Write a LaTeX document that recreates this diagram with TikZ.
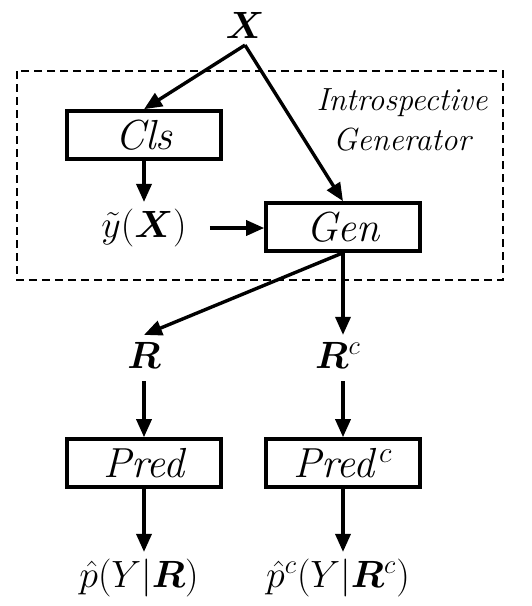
\RequirePackage{fix-cm}
\documentclass[tikz,border=0pt]{standalone}
\usepackage{bm}
\usepackage{fontspec}
\usetikzlibrary{arrows.meta}

\begin{document}
\begin{tikzpicture}[x=0.5pt,y=-0.5pt,
    block/.style={rectangle,draw=black,line width=1.8pt,minimum width=77pt,minimum height=24pt,font=\fontsize{21}{24}\selectfont\itshape},
    var/.style={font=\fontsize{19}{22}\selectfont},
    flow/.style={-{Triangle[length=9pt,width=7.5pt]},line width=1.7pt}]
  \useasboundingbox (0,0) rectangle (531,606);
  % introspective generator frame
  \draw [line width=1pt,dash pattern=on 4pt off 2.5pt] (17,71) rectangle (503,280);
  \node (intro) [font=\fontsize{16}{20}\selectfont\itshape,align=center] at (402,120) {Introspective\\Generator};

  \node (x) [var] at (245,25) {$\bm{X}$};
  \node (cls) [block] at (144,135) {Cls};
  \node (yt) [var] at (144,228) {$\tilde{y}(\bm{X})$};
  \node (gen) [block] at (343,227) {Gen};
  \node (r) [var] at (144,355) {$\bm{R}$};
  \node (rc) [var] at (338,355) {$\bm{R}^c$};
  \node (pred) [block] at (144,463) {Pred};
  \node (predc) [block] at (343,463) {Pred$^{\,c}$};
  \node (p) [var] at (139,578) {$\hat{p}(Y|\bm{R})$};
  \node (pc) [var] at (338,578) {$\hat{p}^c(Y|\bm{R}^c)$};

  \draw [flow] (x.south) -- (cls.north);
  \draw [flow] (x.south) -- (gen.north);
  \draw [flow] (cls) -- (yt);
  \draw [flow,shorten <=8pt] (yt.east) -- (yt.east -| gen.west);
  \draw [flow] (gen.south) -- (r.north);
  \draw [flow] (gen.south) -- (gen.south |- rc.north);
  \draw [flow,shorten <=3pt] (r) -- (pred);
  \draw [flow,shorten <=3pt] (predc.north |- rc.south) -- (predc.north);
  \draw [flow] (pred.south) -- (pred.south |- p.north);
  \draw [flow] (predc.south) -- (predc.south |- pc.north);
\end{tikzpicture}
\end{document}
